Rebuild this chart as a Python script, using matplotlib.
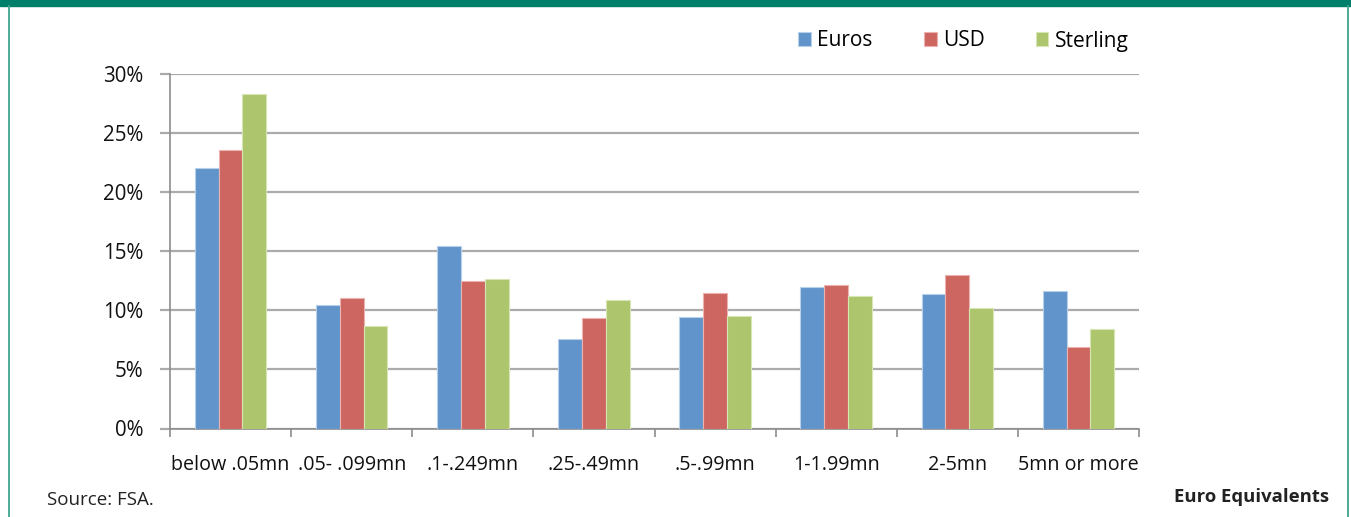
import numpy as np
import matplotlib
matplotlib.use('Agg')
import matplotlib.pyplot as plt
from matplotlib.patches import Rectangle

categories = ['below .05mn', '.05- .099mn', '.1-.249mn', '.25-.49mn',
              '.5-.99mn', '1-1.99mn', '2-5mn', '5mn or more']
euros = [22.0, 10.4, 15.4, 7.55, 9.4, 11.95, 11.4, 11.65]
usd = [23.5, 11.0, 12.5, 9.3, 11.45, 12.1, 13.0, 6.9]
sterling = [28.3, 8.7, 12.6, 10.9, 9.5, 11.2, 10.2, 8.4]
series = {'Euros': euros, 'USD': usd, 'Sterling': sterling}
colors = ['#6194CA', '#CD6560', '#ADC56C']
edges = ['#B9D0EA', '#EBB3B0', '#D8E6B6']

plt.rcParams['font.family'] = ['Open Sans', 'DejaVu Sans']

W, H = 1351, 517
fig = plt.figure(figsize=(W / 100, H / 100), dpi=100)

# frame: green band on top and thin side rules
fig.patches.append(Rectangle((0, 1 - 6 / H), 1, 6 / H, transform=fig.transFigure,
                             color='#00806A', zorder=0))
for xp in (8.5, 1347.5):
    fig.add_artist(plt.Line2D([xp / W, xp / W], [0, 1 - 6 / H], transform=fig.transFigure,
                              color='#3FA58C', lw=1.3))

ax = fig.add_axes([170 / W, (H - 428.5) / H, 969 / W, (428.5 - 73.5) / H])

x = np.arange(len(categories))
bw = 0.197
for i, (name, vals) in enumerate(series.items()):
    ax.bar(x + (i - 1) * bw, vals, width=bw, color=colors[i], edgecolor=edges[i],
           linewidth=0.8, label=name, zorder=3)

ax.set_xlim(-0.5, len(categories) - 0.5)
ax.set_ylim(0, 30)
ax.set_yticks(np.arange(0, 31, 5))
ax.set_yticklabels([f'{v}%' for v in range(0, 31, 5)])
ax.yaxis.grid(True, color='#ABABAB', lw=1.6, zorder=0)
ax.set_axisbelow(True)

ax.set_xticks(np.arange(len(categories) + 1) - 0.5)
ax.set_xticklabels([])
ax.set_xticks(x, minor=True)
ax.set_xticklabels(categories, minor=True)
ax.tick_params(axis='x', which='major', length=6, color='#8C8C8C', width=1.2)
ax.tick_params(axis='x', which='minor', length=0, pad=19, labelsize=14.2, labelcolor='#111111')
ax.tick_params(axis='y', length=7, color='#ABABAB', width=1.6, pad=12,
               labelsize=14.8, labelcolor='#111111')

for s in ('top', 'right'):
    ax.spines[s].set_visible(False)
ax.spines['left'].set_color('#8C8C8C')
ax.spines['left'].set_linewidth(1.2)
ax.spines['bottom'].set_color('#8C8C8C')
ax.spines['bottom'].set_linewidth(1.2)

ax.legend(loc='center left', bbox_to_anchor=(798 / W, 1 - 41 / H),
          bbox_transform=fig.transFigure, ncol=3, frameon=False,
          fontsize=15, handlelength=0.62, handleheight=0.62,
          handletextpad=0.3, columnspacing=2.45, borderpad=0, borderaxespad=0)

fig.text(47 / W, 1 - 500 / H, 'Source: FSA.', fontsize=13.5, va='center', ha='left',
         color='#222222')
fig.text(1329 / W, 1 - 497 / H, 'Euro Equivalents', fontsize=13.3, va='center', ha='right',
         fontweight='bold', color='#222222')

fig.savefig('out.png', dpi=100)
